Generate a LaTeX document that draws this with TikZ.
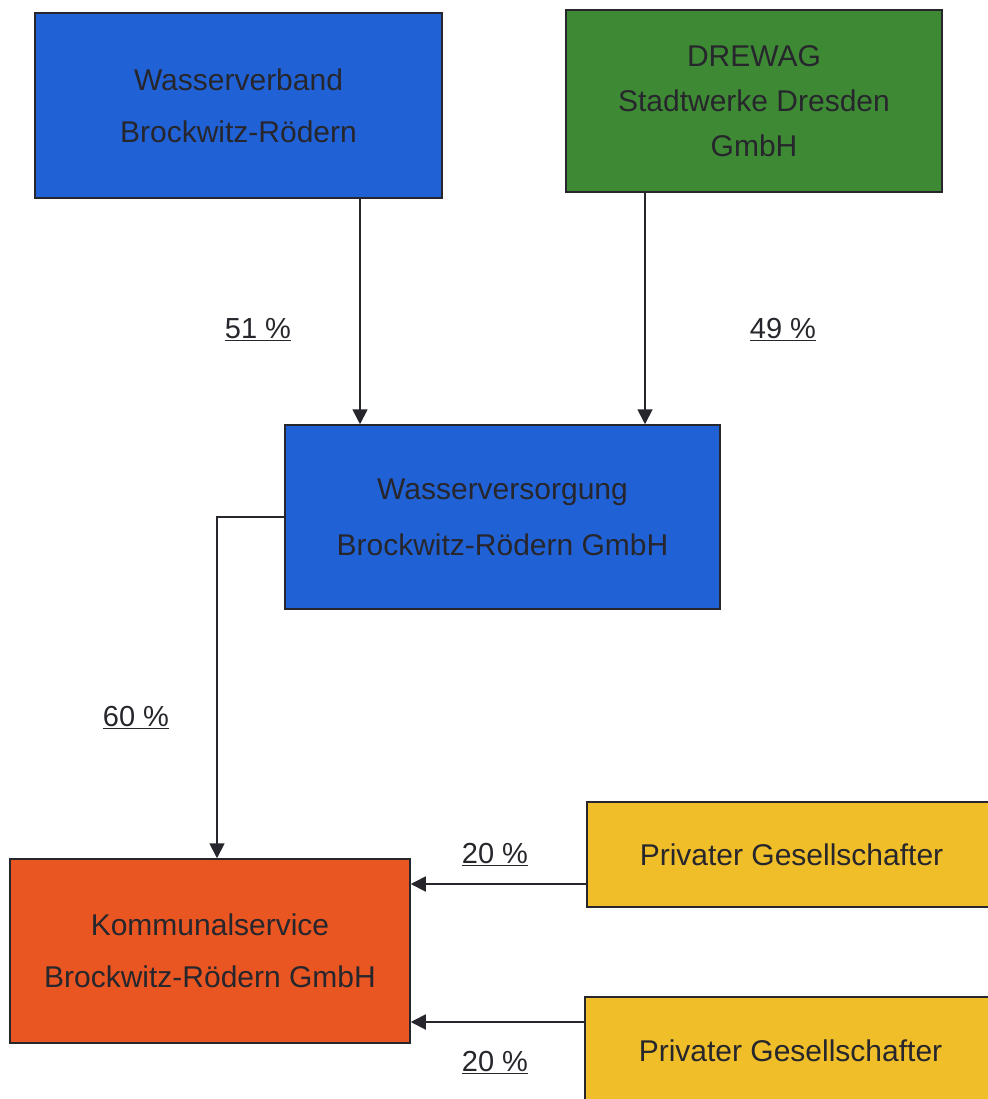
\documentclass[tikz,border=0pt]{standalone}
\usepackage{fontspec}
\setmainfont{Liberation Sans}
\usetikzlibrary{arrows.meta}
\definecolor{boxblue}{RGB}{32,98,214}
\definecolor{boxgreen}{RGB}{62,138,52}
\definecolor{boxorange}{RGB}{234,86,34}
\definecolor{boxyellow}{RGB}{240,190,40}
\definecolor{inkdark}{RGB}{38,38,44}
\tikzset{
  orgbox/.style={draw=inkdark, line width=1.5pt, rectangle, inner sep=0pt, align=center,
    text=inkdark, font=\fontsize{30}{52}\selectfont},
  arr/.style={draw=inkdark, line width=1.8pt, -{Triangle[length=15pt,width=15pt]}},
  pct/.style={text=inkdark, font=\fontsize{29}{34}\selectfont, inner sep=0pt}
}
\begin{document}
\begin{tikzpicture}[x=1pt,y=-1pt]
\useasboundingbox (0,0) rectangle (987,1099);
\fill[white] (0,0) rectangle (987,1099);
\node[orgbox, fill=boxblue, minimum width=407pt, minimum height=185pt] (A) at (238.5,105.5) {Wasserverband\\Brockwitz-Rödern};
\node[orgbox, fill=boxgreen, minimum width=376pt, minimum height=182pt, font=\fontsize{30}{45}\selectfont] (B) at (754,101) {DREWAG\\Stadtwerke Dresden\\GmbH};
\node[orgbox, fill=boxblue, minimum width=435pt, minimum height=184pt, font=\fontsize{30}{56}\selectfont] (C) at (502.5,517) {Wasserversorgung\\Brockwitz-Rödern GmbH};
\node[orgbox, fill=boxorange, minimum width=400pt, minimum height=184pt] (D) at (210,951) {Kommunalservice\\Brockwitz-Rödern GmbH};
\node[orgbox, fill=boxyellow, minimum width=430pt, minimum height=105pt] (E) at (802,854.5) {\hspace*{-21pt}Privater Gesellschafter};
\node[orgbox, fill=boxyellow, minimum width=432pt, minimum height=108pt] (F) at (801,1051) {\hspace*{-21pt}Privater Gesellschafter};
\coordinate (xa) at (360,0);
\coordinate (xb) at (645,0);
\coordinate (xd) at (217,0);
\coordinate (ye) at (0,884);
\coordinate (yf) at (0,1022);
\draw[arr] (A.south -| xa) -- (C.north -| xa);
\draw[arr] (B.south -| xb) -- (C.north -| xb);
\draw[arr] (C.west) -| (D.north -| xd);
\draw[arr] (E.west |- ye) -- (D.east |- ye);
\draw[arr] (F.west |- yf) -- (D.east |- yf);
\node[pct] (l51) at (258,330) {\underline{51 \%}};
\node[pct] (l49) at (783,330) {\underline{49 \%}};
\node[pct] (l60) at (136,718) {\underline{60 \%}};
\node[pct] (l20a) at (495,855) {\underline{20 \%}};
\node[pct] (l20b) at (495,1063) {\underline{20 \%}};
\end{tikzpicture}
\end{document}
